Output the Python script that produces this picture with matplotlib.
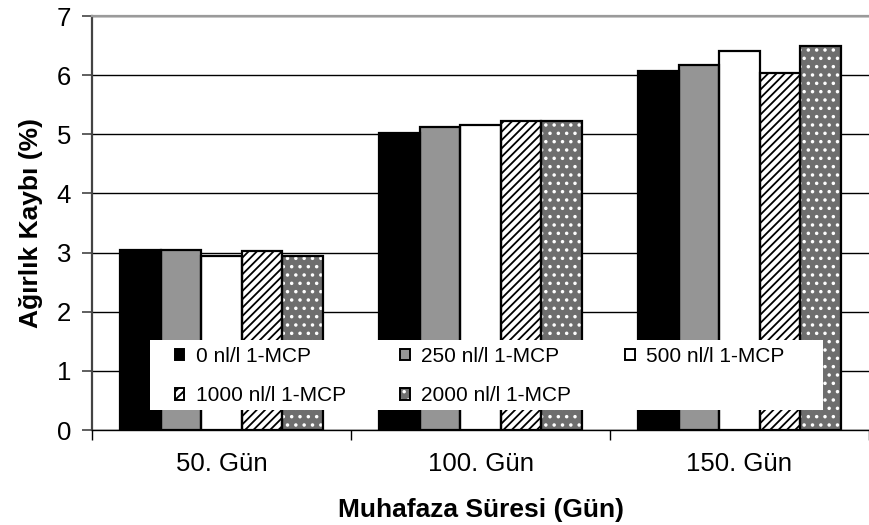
import numpy as np
import matplotlib
matplotlib.use("Agg")
import matplotlib.pyplot as plt
from matplotlib.patches import Patch, Rectangle
from matplotlib.legend_handler import HandlerTuple

plt.rcParams["font.family"] = ["Liberation Sans", "DejaVu Sans"]
plt.rcParams["hatch.linewidth"] = 1.3

# ============================================================
# Data
# ============================================================
categories = ["50. Gün", "100. Gün", "150. Gün"]
series_labels = ["0 nl/l 1-MCP", "250 nl/l 1-MCP", "500 nl/l 1-MCP",
                 "1000 nl/l 1-MCP", "2000 nl/l 1-MCP"]
dose_0 = [3.05, 5.02, 6.07]
dose_250 = [3.05, 5.12, 6.17]
dose_500 = [2.95, 5.15, 6.41]
dose_1000 = [3.02, 5.22, 6.04]
dose_2000 = [2.95, 5.22, 6.50]
series_values = [dose_0, dose_250, dose_500, dose_1000, dose_2000]

y_ticks = [0, 1, 2, 3, 4, 5, 6, 7]

# fill style per series: (facecolor, hatch, hatch colour)
STYLES = [
    ("black", None, "black"),
    ("#959595", None, "black"),
    ("white", None, "black"),
    ("white", "////", "black"),
    ("#6e6e6e", "..", "white"),
]

# ============================================================
# Plot
# ============================================================
fig = plt.figure(figsize=(8.69, 5.25), dpi=100)
ax = fig.add_axes([92 / 869, 95 / 525, 777 / 869, 414 / 525])

x = np.arange(len(categories))
width = 0.157

for i, (vals, (fc, hatch, hc)) in enumerate(zip(series_values, STYLES)):
    pos = x + (i - 2) * width
    ax.bar(pos, vals, width, color=fc, hatch=hatch, edgecolor=hc,
           linewidth=0, zorder=3)
    ax.bar(pos, vals, width, fill=False, edgecolor="black",
           linewidth=1.6, zorder=4)

ax.set_xlim(-0.5, 2.5)
ax.set_ylim(0, 7)
ax.set_yticks(y_ticks)
ax.yaxis.grid(True, color="black", linewidth=1.0, zorder=1)
ax.set_axisbelow(True)

# category boundaries as major ticks, labels at centres on minor ticks
ax.set_xticks([-0.5, 0.5, 1.5, 2.5])
ax.set_xticklabels([])
ax.set_xticks(x, minor=True)
ax.set_xticklabels(categories, minor=True)
ax.tick_params(axis="x", which="major", direction="out", length=7, width=1.0)
ax.tick_params(axis="x", which="minor", length=0, pad=16, labelsize=18.5)
ax.tick_params(axis="y", direction="out", length=7, width=1.2,
               color="#444444", pad=8, labelsize=18.5)

ax.spines["top"].set_color("#9a9a9a")
ax.spines["top"].set_linewidth(1.6)
ax.spines["right"].set_visible(False)
ax.spines["left"].set_color("#444444")
ax.spines["left"].set_linewidth(1.6)
ax.spines["bottom"].set_linewidth(1.0)

ax.set_xlabel("Muhafaza Süresi (Gün)", fontsize=19, fontweight="bold",
              labelpad=16)
ax.set_ylabel("Ağırlık Kaybı (%)", fontsize=19, fontweight="bold",
              labelpad=10)

# legend box (white, no border) drawn over the bars
box = Rectangle((58 / 777, 20 / 414), 673 / 777, 70 / 414,
                transform=ax.transAxes, facecolor="white",
                edgecolor="none", zorder=5, clip_on=False)
ax.add_patch(box)

handles = []
for fc, hatch, hc in STYLES:
    fill = Patch(facecolor=fc, hatch=hatch, edgecolor=hc, linewidth=0)
    edge = Patch(fill=False, edgecolor="black", linewidth=1.4)
    handles.append((fill, edge))

# legend fills column by column; reorder so the rows read left to right
order = [0, 3, 1, 4, 2]
leg = ax.legend([handles[k] for k in order], [series_labels[k] for k in order],
                ncol=3, frameon=False, loc="upper left",
                bbox_to_anchor=(175 / 869, (525 - 347) / 525),
                bbox_transform=fig.transFigure,
                fontsize=15, handlelength=0.45, handleheight=0.45,
                handletextpad=0.55, columnspacing=2.6, labelspacing=0.98,
                borderpad=0, borderaxespad=0,
                handler_map={tuple: HandlerTuple(ndivide=1)})
leg.set_zorder(6)

fig.savefig("out.png", dpi=100)
